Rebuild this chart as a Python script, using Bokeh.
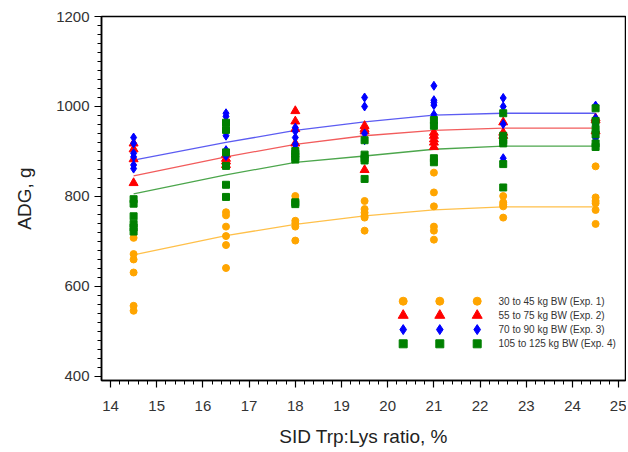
from bokeh.plotting import figure
from bokeh.models import Range1d, SingleIntervalTicker
from bokeh.core.properties import value
from bokeh.embed import file_html
from bokeh.resources import INLINE

# ---- data ----
ratio_levels = [14.5, 16.5, 18.0, 19.5, 21.0, 22.5, 24.5]

exp1_y = [
    [708, 672, 660, 631, 557, 546],
    [765, 758, 733, 712, 692, 641],
    [801, 792, 746, 740, 733, 702],
    [790, 772, 764, 757, 753, 724],
    [853, 809, 778, 733, 724, 704],
    [801, 787, 782, 778, 753],
    [867, 798, 790, 785, 770, 739],
]
exp2_y = [
    [918, 905, 883, 830],
    [893, 884, 878, 870],
    [990, 967, 950, 918],
    [957, 950, 945, 859],
    [942, 935, 927, 920, 910],
    [965, 942, 935],
    [974, 970, 945],
]
exp3_y = [
    [931, 918, 896, 888, 870, 862],
    [985, 978, 935, 903, 890],
    [953, 945, 931, 916, 907],
    [1020, 1000, 940, 925],
    [1046, 1014, 1009, 1003, 982],
    [1019, 1000, 961, 885, 878],
    [1002, 974, 961, 930],
]
exp4_y = [
    [794, 784, 756, 739, 731, 722],
    [964, 948, 898, 868, 826, 799],
    [901, 895, 888, 882, 787, 783],
    [925, 893, 885, 880, 839],
    [970, 957, 885, 876],
    [985, 935, 925, 918, 872, 820],
    [996, 968, 950, 938, 918, 910],
]

# fitted curves (read at each ratio level)
fit1 = [670, 713, 738, 757, 770, 777, 777]
fit2 = [846, 888, 916, 935, 947, 952, 952]
fit3 = [881, 920, 947, 966, 981, 985, 985]
fit4 = [806, 848, 876, 890, 905, 912, 912]

labels = ["30 to 45 kg BW (Exp. 1)", "55 to 75 kg BW (Exp. 2)",
          "70 to 90 kg BW (Exp. 3)", "105 to 125 kg BW (Exp. 4)"]


def flatten(groups):
    xs, ys = [], []
    for xv, vals in zip(ratio_levels, groups):
        for v in vals:
            xs.append(xv)
            ys.append(v)
    return xs, ys


FONT = "Liberation Sans"
FRAME_W, FRAME_H = 524, 364

p = figure(width=626, height=450, output_backend="svg", toolbar_location=None,
           x_range=Range1d(13.805, 25.147), y_range=Range1d(391, 1200),
           min_border_left=101, min_border_right=1, min_border_top=16,
           min_border_bottom=70)
p.background_fill_color = "white"
p.border_fill_color = "white"
p.grid.visible = False
p.outline_line_color = "black"
p.outline_line_width = 1.5

# pixel-space ranges for the legend block (layout only)
p.extra_x_ranges = {"px": Range1d(0, FRAME_W)}
p.extra_y_ranges = {"px": Range1d(0, FRAME_H)}

p.xaxis.ticker = SingleIntervalTicker(interval=1, num_minor_ticks=5)
p.yaxis.ticker = SingleIntervalTicker(interval=200, num_minor_ticks=10)

for ax in (p.xaxis[0], p.yaxis[0]):
    ax.axis_line_width = 1.5
    ax.axis_line_color = "black"
    ax.major_tick_line_color = "black"
    ax.minor_tick_line_color = "black"
    ax.major_tick_line_width = 1.2
    ax.minor_tick_line_width = 1
    ax.major_tick_out = 7
    ax.major_tick_in = 0
    ax.minor_tick_out = 4
    ax.minor_tick_in = 0
    ax.major_label_text_font = FONT
    ax.major_label_text_font_size = "15px"
    ax.major_label_text_color = "#333333"
    ax.axis_label_text_font = FONT
    ax.axis_label_text_font_size = "19px"
    ax.axis_label_text_font_style = "normal"
    ax.axis_label_text_color = "#222222"

p.xaxis.axis_label = "SID Trp:Lys ratio, %"
p.yaxis.axis_label = "ADG, g"
p.xaxis.major_label_standoff = 13
p.yaxis.major_label_standoff = 5
p.xaxis.axis_label_standoff = 12
p.yaxis.axis_label_standoff = 18

colors = ["#FFA500", "#FF0000", "#0000FF", "#008000"]
line_colors = ["#FFC04A", "#F25C5C", "#5C5CF2", "#4CA64C"]
markers = ["circle", "triangle", "diamond", "square"]
sizes = [7, 9, 9, 7]
groups = [exp1_y, exp2_y, exp3_y, exp4_y]
fits = [fit1, fit2, fit3, fit4]

for fit, lc in zip(fits, line_colors):
    p.line(ratio_levels, fit, line_color=lc, line_width=1.3)

for g, c, m, s in zip(groups, colors, markers, sizes):
    xs, ys = flatten(g)
    p.scatter(xs, ys, marker=m, size=s, fill_color=c, line_color=c)

# ---- legend block: three key columns and a label column (pixel layout) ----
key_cols = [301.7, 338.3, 375.7]
label_x = 397
row_top, row_pitch = 79.3, 14.2
for i, (lab, c, m, s) in enumerate(zip(labels, colors, markers, sizes)):
    yy = row_top - i * row_pitch
    p.scatter(key_cols, [yy] * len(key_cols), marker=m, size=s + 1,
              fill_color=c, line_color=c,
              x_range_name="px", y_range_name="px")
    p.text([label_x], [yy], text=[lab], text_font=value(FONT),
           text_font_size="10px", text_color="#333333",
           text_baseline="middle", text_align="left",
           x_range_name="px", y_range_name="px")

open("out.html", "w").write(file_html(p, INLINE))
